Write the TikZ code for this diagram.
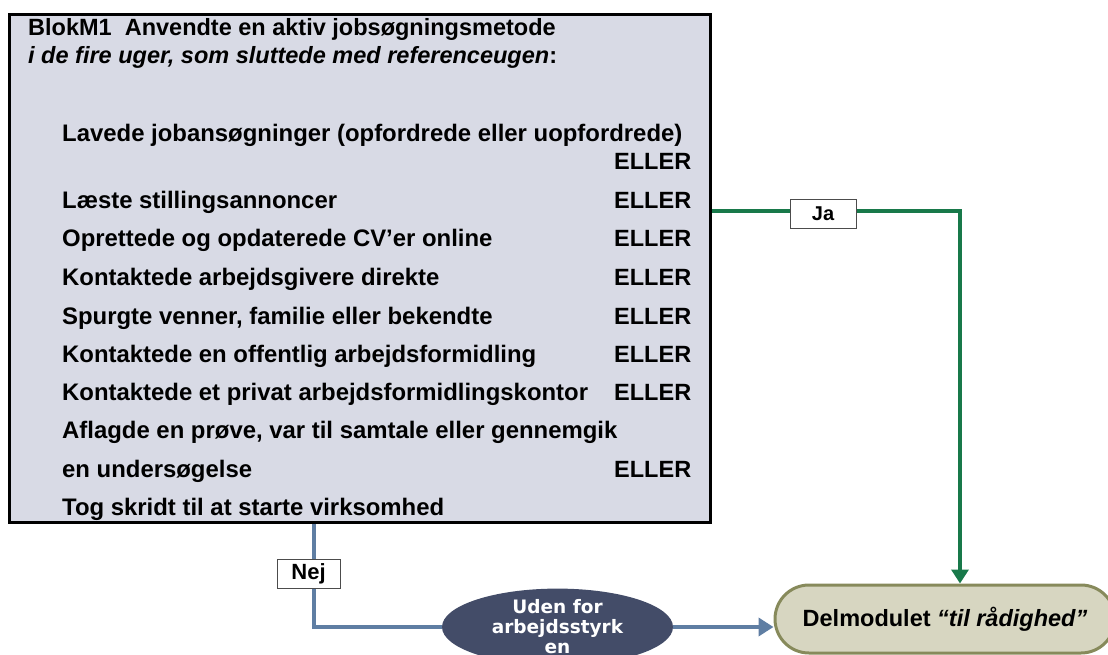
\documentclass[tikz,border=0pt]{standalone}
\usepackage{fontspec}
\setmainfont{Liberation Sans}
\newfontfamily\dejavu{DejaVu Sans}
\usetikzlibrary{arrows.meta,shapes.misc,shapes.geometric}
\definecolor{boxfill}{HTML}{D8DAE5}
\definecolor{gline}{HTML}{18794A}
\definecolor{bline}{HTML}{5F7EA3}
\definecolor{ellfill}{HTML}{434C68}
\definecolor{pillfill}{HTML}{D7D6C1}
\definecolor{pilldraw}{HTML}{878A5B}
\begin{document}
\begin{tikzpicture}[x=1pt,y=-1pt,
  bodytext/.style={anchor=base west, inner sep=0pt, font=\fontsize{23.9}{28}\selectfont\bfseries},
  ellertext/.style={anchor=base west, inner sep=0pt, font=\fontsize{23.5}{28}\selectfont\bfseries},
  titletext/.style={anchor=base west, inner sep=0pt, font=\fontsize{23.5}{27}\selectfont\bfseries},
  tagbox/.style={draw=black!70, line width=1pt, fill=white, inner sep=0pt, font=\fontsize{20}{24}\selectfont\bfseries},
  greenline/.style={draw=gline, line width=4pt},
  blueline/.style={draw=bline, line width=4.5pt},
]
\useasboundingbox (0,0) rectangle (1108,655);
\clip (0,0) rectangle (1108,655);

% main block
\node[draw=black, line width=3pt, fill=boxfill, anchor=north west,
      minimum width=701pt, minimum height=508pt, inner sep=0pt] (blok) at (8,13) {};

\node[titletext] (title1) at (28,35.5) {BlokM1\ \ Anvendte en aktiv jobsøgningsmetode};
\node[titletext] (title2) at (28,63.3) {\itshape i de fire uger, som sluttede med referenceugen\upshape:};

\node[bodytext] (i1) at (62,142) {Lavede jobansøgninger (opfordrede eller uopfordrede)};
\node[ellertext] (e1) at (614,170) {ELLER};
\node[bodytext] (i2) at (62,209) {Læste stillingsannoncer};
\node[ellertext] (e2) at (614,209) {ELLER};
\node[bodytext] (i3) at (62,247) {Oprettede og opdaterede CV’er online};
\node[ellertext] (e3) at (614,247) {ELLER};
\node[bodytext] (i4) at (62,285.5) {Kontaktede arbejdsgivere direkte};
\node[ellertext] (e4) at (614,285.5) {ELLER};
\node[bodytext] (i5) at (62,324) {Spurgte venner, familie eller bekendte};
\node[ellertext] (e5) at (614,324) {ELLER};
\node[bodytext] (i6) at (62,362) {Kontaktede en offentlig arbejdsformidling};
\node[ellertext] (e6) at (614,362) {ELLER};
\node[bodytext] (i7) at (62,400) {Kontaktede et privat arbejdsformidlingskontor};
\node[ellertext] (e7) at (614,400) {ELLER};
\node[bodytext] (i8) at (62,438.5) {Aflagde en prøve, var til samtale eller gennemgik};
\node[bodytext] (i9) at (62,477) {en undersøgelse};
\node[ellertext] (e9) at (614,477) {ELLER};
\node[bodytext] (i10) at (62,515) {Tog skridt til at starte virksomhed};

% ellipse and pill
\node[ellipse, fill=ellfill, minimum width=231pt, minimum height=68pt, inner sep=0pt,
      text=white, align=center, font=\dejavu\fontsize{18.5}{20}\selectfont\bfseries] (ell) at (557.5,627)
      {Uden for\\arbejdsstyrk\\en};
\node[rounded rectangle, draw=pilldraw, line width=3pt, fill=pillfill,
      minimum width=340pt, minimum height=68pt, inner sep=0pt,
      font=\fontsize{23.5}{28}\selectfont\bfseries] (pill) at (945,619)
      {Delmodulet \textit{“til rådighed”}};

% green connector (Ja)
\coordinate (gturn) at (960,211.5);
\draw[greenline, -{Triangle[length=14pt,width=17pt]}] (gturn -| blok.east) -- (gturn) -- (gturn |- pill.north);
\node[tagbox, minimum width=66pt, minimum height=28pt] (ja) at (823,214) {Ja};

% blue connector (Nej)
\coordinate (bturn) at (314,627);
\draw[blueline] (bturn |- blok.south) -- (bturn) -- (bturn -| ell.west);
\draw[blueline, -{Triangle[length=15pt,width=18pt]}] (ell.east) -- (ell.east -| pill.west);
\node[tagbox, minimum width=63pt, minimum height=29pt, font=\fontsize{22}{26}\selectfont\bfseries] (nej) at (308.5,573.5) {Nej};
\end{tikzpicture}
\end{document}
